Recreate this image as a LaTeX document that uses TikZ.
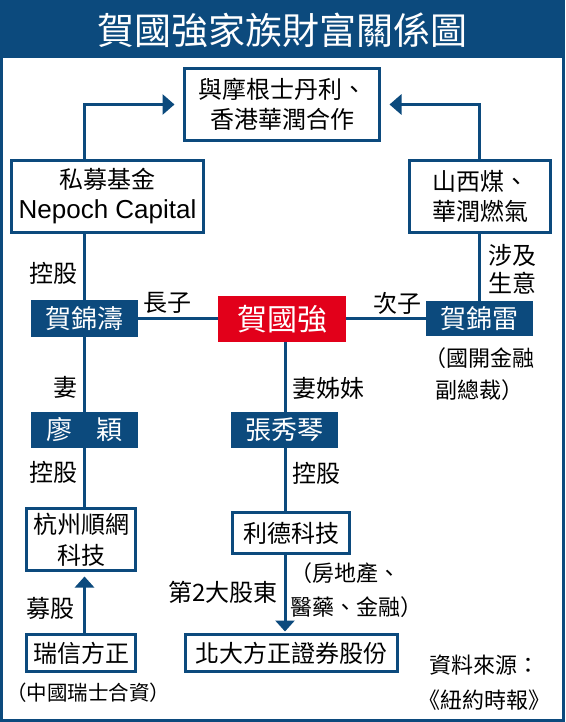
\documentclass[tikz,border=0pt]{standalone}
\usepackage{fontspec}
\setmainfont{Noto Sans CJK TC}
\newfontfamily\latf{Liberation Sans}
\usetikzlibrary{arrows.meta}
\definecolor{nblue}{RGB}{12,74,125}
\definecolor{nred}{RGB}{226,0,26}
\begin{document}
\begin{tikzpicture}[x=1pt,y=-1pt,
  every node/.style={inner sep=0pt, outer sep=0pt},
  wbox/.style={draw=nblue, line width=3pt, fill=white, align=center, font=\fontsize{24}{30}\selectfont},
  nbox/.style={fill=nblue, text=white, font=\fontsize{26}{30}\selectfont},
  rbox/.style={fill=nred, text=white, font=\fontsize{30}{34}\selectfont},
  conn/.style={draw=nblue, line width=3pt},
  arrtop/.style={conn, -{Triangle[length=12pt,width=20pt]}, shorten >=10pt},
  arrbot/.style={conn, -{Triangle[length=11pt,width=19pt]}},
  lbl/.style={font=\fontsize{24}{28}\selectfont, align=center},
  note/.style={font=\fontsize{22}{33}\selectfont, align=center},
]
\useasboundingbox (0,0) rectangle (565,722);
\fill[white] (0,0) rectangle (565,722);
\fill[nblue] (0,0) rectangle (565,58);
\draw[nblue, line width=3pt] (1.5,1.5) rectangle (563.5,720.5);
\node[text=white, font=\fontsize{37}{40}\selectfont] (title) at (282,30) {賀國強家族財富關係圖};

% boxes
\node[wbox, minimum width=195pt, minimum height=72pt] (top) at (282,104.5) {與摩根士丹利、\\香港華潤合作};
\node[wbox, minimum width=192pt, minimum height=72pt] (np) at (107.5,196.5) {私募基金\\{\latf\fontsize{26}{30}\selectfont Nepoch Capital}};
\node[wbox, minimum width=141pt, minimum height=72pt] (sx) at (480,196.5) {山西煤、\\華潤燃氣};
\node[nbox, minimum width=107pt, minimum height=37pt] (hjt) at (84.5,318.5) {賀錦濤};
\node[rbox, minimum width=128pt, minimum height=46pt] (hgq) at (282,319) {賀國強};
\node[nbox, minimum width=107pt, minimum height=35pt] (hjl) at (479.5,318.5) {賀錦雷};
\node[nbox, minimum width=107pt, minimum height=36pt] (ly) at (84.5,430) {廖\hspace{0.95em}穎};
\node[nbox, minimum width=107pt, minimum height=36pt] (zxq) at (284.5,430) {張秀琴};
\node[wbox, minimum width=109pt, minimum height=62pt, font=\fontsize{24}{31}\selectfont] (hz) at (81,539.5) {杭州順網\\科技};
\node[wbox, minimum width=117pt, minimum height=41pt] (ld) at (291,533) {利德科技};
\node[wbox, minimum width=109pt, minimum height=37pt] (rx) at (81,653) {瑞信方正};
\node[wbox, minimum width=212pt, minimum height=37pt] (bd) at (291.5,653) {北大方正證券股份};
\coordinate (cx) at (285,0);

% connectors
\draw[arrtop] (np.north -| hjt.north) |- (top.west);
\draw[arrtop] (sx.north -| hjl.north) |- (top.east);
\draw[conn] (np.south -| hjt.north) -- (hjt.north);
\draw[conn] (hjt.east) -- (hjt.east -| hgq.west);
\draw[conn] (hjl.west -| hgq.east) -- (hjl.west);
\draw[conn] (sx.south -| hjl.north) -- (hjl.north);
\draw[conn] (hjt.south) -- (ly.north);
\draw[conn] (ly.south) -- (ly.south |- hz.north);
\draw[conn] (hgq.south -| cx) -- (zxq.north -| cx);
\draw[conn] (zxq.south -| cx) -- (ld.north -| cx);
\draw[arrbot, shorten >=3pt] (ld.south -| cx) -- (bd.north -| cx);
\draw[arrbot, shorten >=6pt] (rx.north -| ly.south) -- (hz.south -| ly.south);

% labels
\node[lbl] (l1) at (53,273) {控股};
\node[lbl] (l2) at (167,303) {長子};
\node[lbl] (l3) at (397,303) {次子};
\node[lbl] (l4) at (512,269) {涉及\\生意};
\node[lbl] (l5) at (65,387) {妻};
\node[lbl] (l6) at (53,472) {控股};
\node[lbl] (l7) at (328,388) {妻姊妹};
\node[lbl] (l8) at (316,473) {控股};
\node[lbl] (l9) at (50,608) {募股};
\node[lbl] (l10) at (223,592) {第2大股東};

% notes
\node[note, font=\fontsize{22}{32}\selectfont] (n1) at (479,374) {（國開金融\\副總裁）};
\node[note, align=left, anchor=west, font=\fontsize{22}{34}\selectfont] (n2) at (290,590) {（房地產、\\醫藥、金融）};
\node[note, font=\fontsize{20.5}{24}\selectfont] (n3) at (88,693) {（中國瑞士合資）};
\node[note, font=\fontsize{22}{35}\selectfont] (n4) at (484,683) {資料來源：\\《紐約時報》};
\end{tikzpicture}
\end{document}
